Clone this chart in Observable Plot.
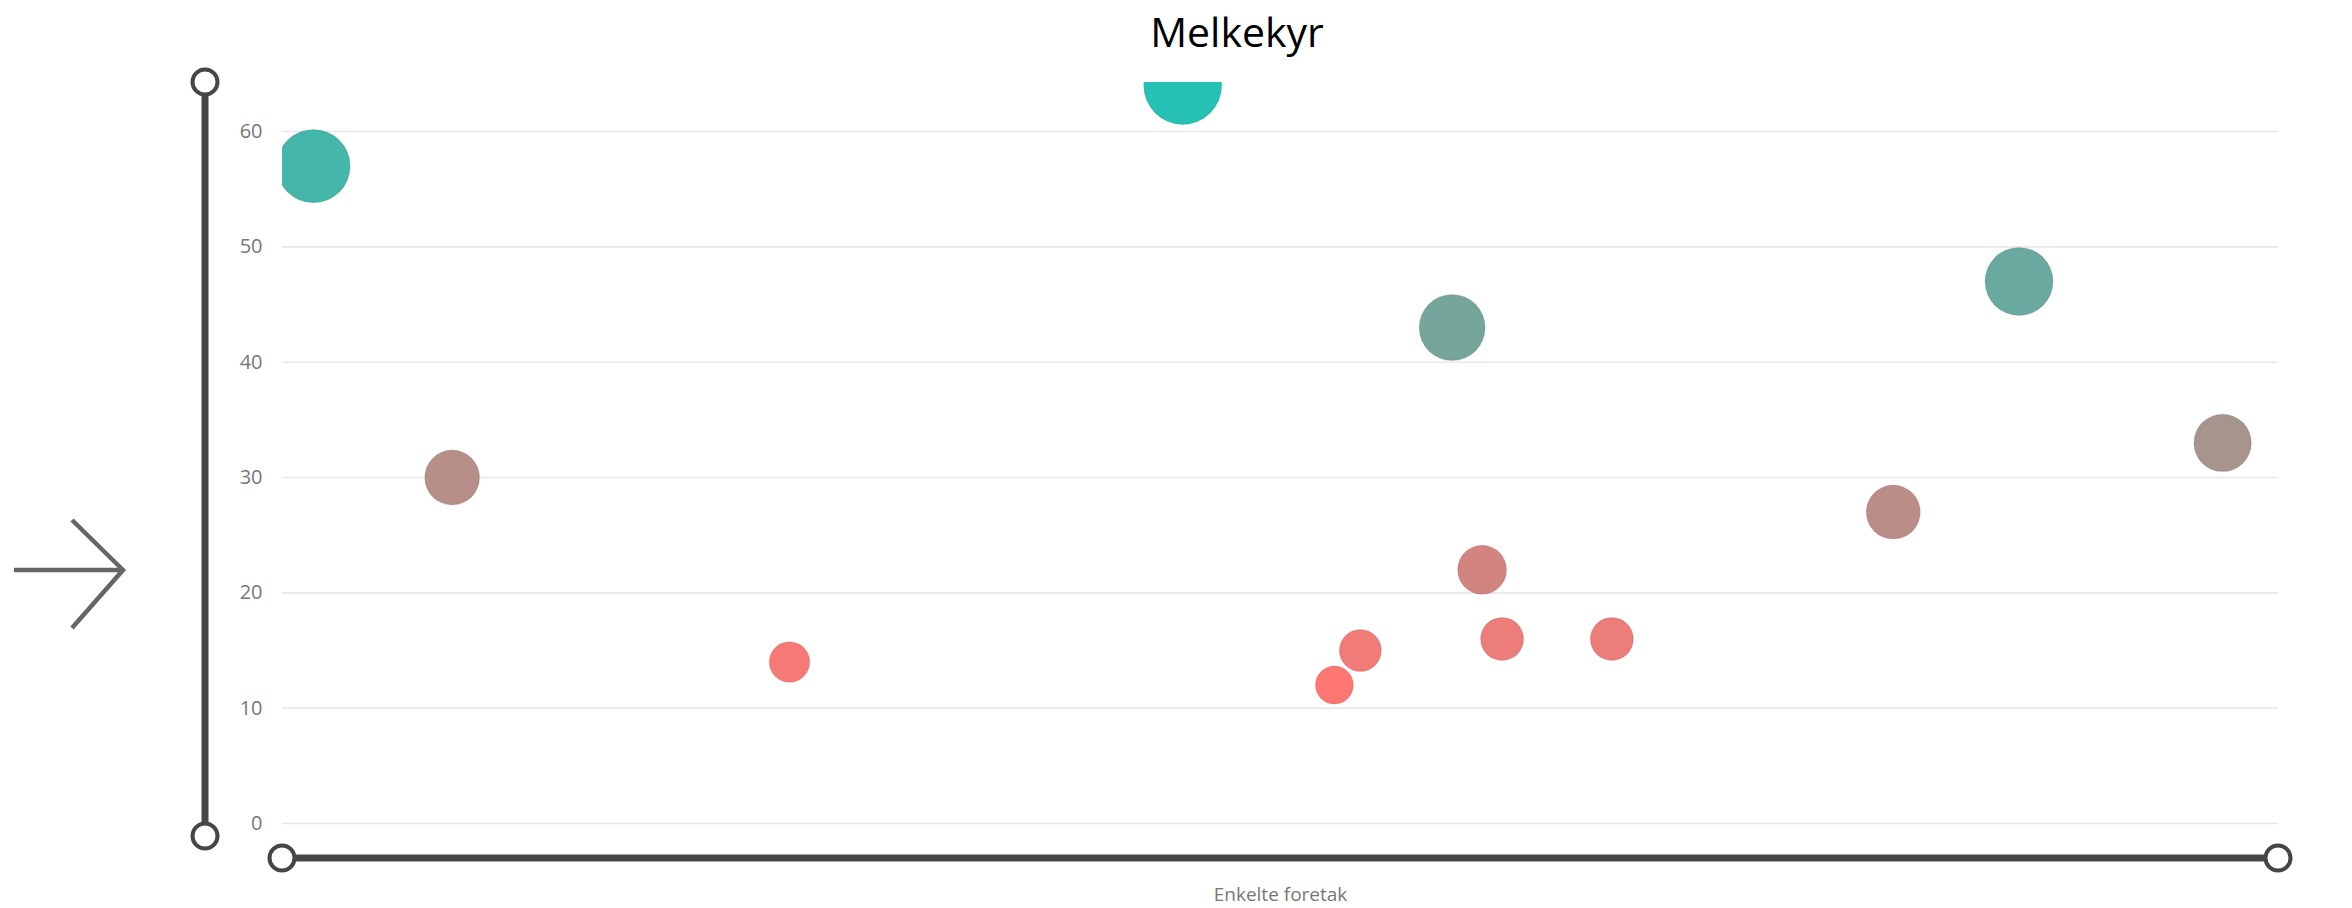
<!DOCTYPE html>
<html>
<head>
<meta charset="utf-8">
<script src="https://cdn.jsdelivr.net/npm/d3@7"></script>
<script src="https://cdn.jsdelivr.net/npm/@observablehq/plot@0.6"></script>
<style>
  html, body { margin: 0; padding: 0; background: #fff; }
  #wrap { width: 2352px; height: 908px; position: relative; overflow: hidden; }
  #title { position: relative; height: 60px; width: 2352px; }
  #title span { position: absolute; left: 1237px; top: 0; transform: translateX(-50%);
    font-family: 'Segoe UI', 'Open Sans', sans-serif; font-size: 41px; line-height: 62px; color: #000; white-space: nowrap; }
</style>
</head>
<body>
<div id="wrap">
  <div id="title"><span>Melkekyr</span></div>
  <div id="chart"></div>
</div>
<script>
// ---- data ----
const tittel = "Melkekyr";
const xTittel = "Enkelte foretak";
const foretakX = [1.55, 8.5, 25.4, 45.1, 52.7, 54.0, 58.6, 60.1, 61.1, 66.6, 80.7, 87.0, 97.2];
const melkekyr = [57, 30, 14, 64, 12, 15, 43, 22, 16, 16, 27, 47, 33];
const storrelse = [88.6, 49.4, 27, 100, 23.7, 29, 71.6, 39.4, 30.4, 30.4, 47.9, 76, 54.2];
const yTicks = [0, 10, 20, 30, 40, 50, 60];

const data = foretakX.map((x, i) => ({x, y: melkekyr[i], s: storrelse[i]}));
const sMin = d3.min(storrelse), sMax = d3.max(storrelse);

const plot = Plot.plot({
  width: 2352,
  height: 848,
  marginTop: 22,
  marginBottom: 85,
  marginLeft: 282,
  marginRight: 74,
  style: {fontFamily: "'Segoe UI','Open Sans',sans-serif", background: "white", overflow: "visible"},
  x: {domain: [0, 100], axis: null},
  y: {domain: [0, 64.25], axis: null},
  r: {type: "sqrt", domain: [0, 100], range: [0, 39]},
  color: {type: "linear", domain: [sMin, sMax], range: ["#FF7672", "#24C1B4"], interpolate: "rgb"},
  marks: [
    Plot.gridY(yTicks, {stroke: "#e8e8e8", strokeOpacity: 1, strokeWidth: 1.6}),
    Plot.axisY(yTicks, {tickSize: 0, tickPadding: 20, fontSize: 20, fill: "#777", label: null, tickFormat: d => String(d)}),
    Plot.dot(data, {x: "x", y: "y", r: "s", fill: "s", stroke: "#000", strokeOpacity: 0.07, strokeWidth: 1.5, clip: true}),
    Plot.text([xTittel], {frameAnchor: "bottom", dy: 77, lineAnchor: "bottom", fontSize: 19, fill: "#777"})
  ]
});

document.getElementById("chart").appendChild(plot);

// ---- decorations (zoom sliders and arrow), placed from the plot's scales ----
const svg = d3.select(plot);
const xs = plot.scale("x"), ys = plot.scale("y");
const x0 = xs.apply(0), x1 = xs.apply(100);
const yTop = ys.apply(64.25), yZero = ys.apply(0);
const dark = "#464646";
const g = svg.append("g");
const sx = x0 - 77, yBot = yZero + 13, hy = yZero + 35;
g.append("line").attr("x1", sx).attr("x2", sx).attr("y1", yTop).attr("y2", yBot)
  .attr("stroke", dark).attr("stroke-width", 7);
g.append("line").attr("x1", x0).attr("x2", x1).attr("y1", hy).attr("y2", hy)
  .attr("stroke", dark).attr("stroke-width", 7);
[[sx, yTop], [sx, yBot], [x0, hy], [x1, hy]].forEach(([cx, cy]) => {
  g.append("circle").attr("cx", cx).attr("cy", cy).attr("r", 12.5)
    .attr("fill", "white").attr("stroke", dark).attr("stroke-width", 4);
});
const ay = yZero - 253;
g.append("path")
  .attr("d", `M14,${ay}H124M72,${ay - 50}L123,${ay}L72,${ay + 58}`)
  .attr("fill", "none").attr("stroke", "#666").attr("stroke-width", 4.5);
</script>
</body>
</html>
